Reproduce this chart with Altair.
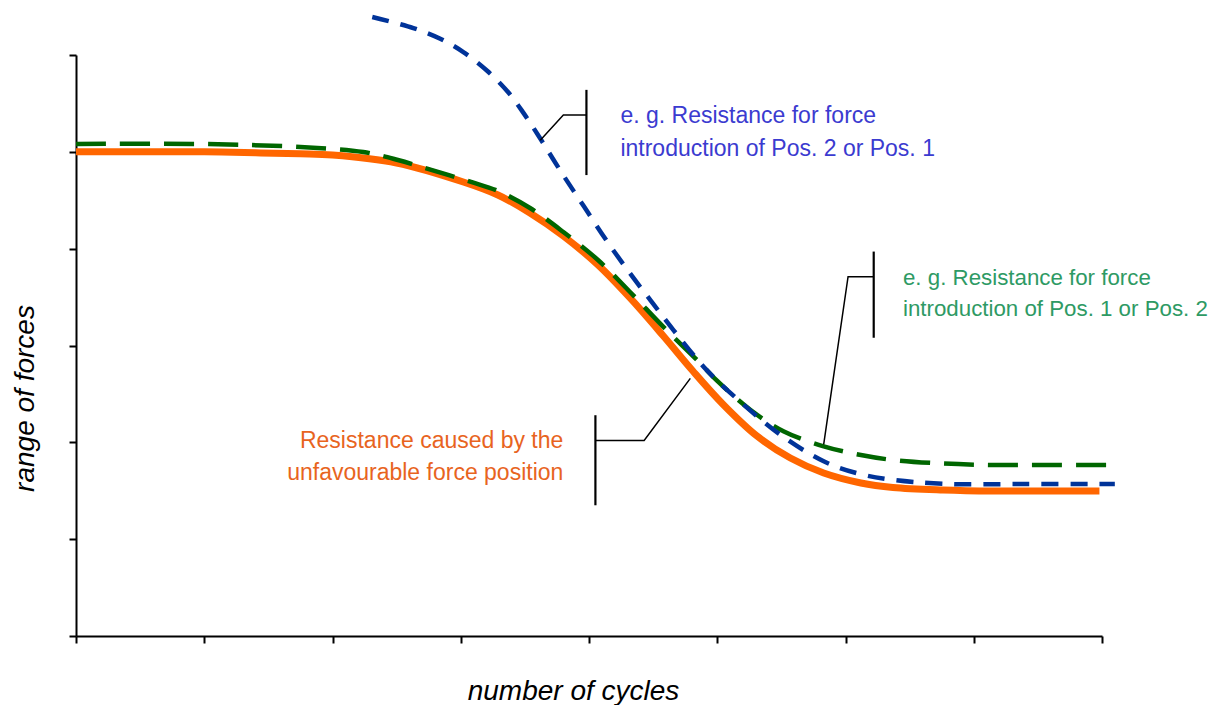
import altair as alt
import pandas as pd

# ---- curve data (x: number of cycles, arbitrary units 0..8; y: range of forces, 0..6) ----
orange_x = [0, 0.6, 1.0, 1.4, 1.75, 2.0, 2.5, 3.02, 3.29, 3.54, 3.8, 4.07, 4.32, 4.58, 4.81,
            5.05, 5.31, 5.57, 5.83, 6.12, 6.37, 6.76, 7.15, 7.6, 7.98]
orange_y = [5.0, 5.0, 5.0, 4.99, 4.98, 4.967, 4.885, 4.689, 4.554, 4.368, 4.131, 3.832, 3.491,
            3.098, 2.737, 2.386, 2.065, 1.838, 1.683, 1.580, 1.534, 1.508, 1.497, 1.497, 1.497]

green_x = [0, 0.97, 1.75, 2.24, 2.51, 2.77, 3.08, 3.29, 3.54, 3.8, 4.07, 4.32, 4.58, 4.85, 5.0,
           5.26, 5.52, 5.83, 6.12, 6.37, 6.76, 7.15, 7.6, 8.09]
green_y = [5.081, 5.081, 5.050, 4.998, 4.916, 4.813, 4.689, 4.596, 4.420, 4.172, 3.883, 3.553,
           3.192, 2.840, 2.634, 2.334, 2.112, 1.959, 1.869, 1.818, 1.781, 1.766, 1.766, 1.766]

blue_x = [2.31, 2.63, 2.84, 3.02, 3.21, 3.37, 3.49, 3.62, 3.8, 3.96, 4.14, 4.32, 4.48, 4.66,
          4.92, 5.18, 5.49, 5.83, 6.09, 6.33, 6.76, 7.42, 8.1]
blue_y = [6.393, 6.278, 6.168, 6.030, 5.832, 5.615, 5.400, 5.137, 4.757, 4.437, 4.077, 3.745,
          3.466, 3.157, 2.743, 2.419, 2.080, 1.804, 1.681, 1.619, 1.572, 1.569, 1.569]

# ---- axis ticks ----
x_ticks = [0, 1, 2, 3, 4, 5, 6, 7, 8]
y_ticks = [0, 1, 2, 3, 4, 5, 6]

# ---- callout leader lines ----
leader_seg = ["blue", "blue", "blue", "green", "green", "green", "orange", "orange", "orange"]
leader_ord = [0, 1, 2, 0, 1, 2, 0, 1, 2]
leader_x = [3.62, 3.80, 3.98, 5.83, 6.02, 6.22, 4.79, 4.43, 4.05]
leader_y = [5.12, 5.38, 5.38, 1.98, 3.71, 3.71, 2.66, 2.02, 2.02]

bar_x = [3.98, 6.22, 4.05]
bar_y1 = [5.64, 3.97, 2.28]
bar_y2 = [4.76, 3.08, 1.35]

# ---- annotation texts ----
blue_text = ["e. g. Resistance for force", "introduction of Pos. 2 or Pos. 1"]
blue_text_x = [4.245, 4.245]
blue_text_y = [5.30, 4.96]

green_text = ["e. g. Resistance for force", "introduction of Pos. 1 or Pos. 2"]
green_text_x = [6.448, 6.448]
green_text_y = [3.625, 3.305]

orange_text = ["Resistance caused by the", "unfavourable force position"]
orange_text_x = [3.80, 3.80]
orange_text_y = [1.94, 1.61]

FONT = "Liberation Sans"

X = alt.X("x:Q", scale=alt.Scale(domain=[0, 8], nice=False, zero=False),
          axis=alt.Axis(values=x_ticks, labels=False, grid=False, title="number of cycles",
                        titleX=497, titleY=63, titleBaseline="alphabetic", titleAlign="center"))
Y = alt.Y("y:Q", scale=alt.Scale(domain=[0, 6], nice=False, zero=False),
          axis=alt.Axis(values=y_ticks, labels=False, grid=False, title="range of forces",
                        titleX=-43, titleY=343, titleAngle=270, titleBaseline="alphabetic",
                        titleAlign="center"))

def curve(xs, ys, color, width, dash=None):
    df = pd.DataFrame({"x": xs, "y": ys})
    kw = dict(color=color, strokeWidth=width, interpolate="catmull-rom", clip=False,
              strokeCap="butt")
    if dash is not None:
        kw["strokeDash"] = dash
    return alt.Chart(df).mark_line(**kw).encode(x=X, y=Y)

orange = curve(orange_x, orange_y, "#FF6600", 7)
green = curve(green_x, green_y, "#006600", 4.5, [30, 14])
blue = curve(blue_x, blue_y, "#003399", 4.5, [17, 12])

leader_df = pd.DataFrame({"x": leader_x, "y": leader_y, "seg": leader_seg, "ord": leader_ord})
leaders = alt.Chart(leader_df).mark_line(color="black", strokeWidth=1.5, clip=False).encode(
    x=X, y=Y, detail="seg:N", order="ord:Q")

bar_df = pd.DataFrame({"x": bar_x, "y": bar_y1, "y2": bar_y2})
bars = alt.Chart(bar_df).mark_rule(color="black", strokeWidth=2.2).encode(
    x=X, y=Y, y2="y2:Q")

def texts(lines, xs, ys, color, align, size=23):
    df = pd.DataFrame({"x": xs, "y": ys, "t": lines})
    return alt.Chart(df).mark_text(align=align, baseline="alphabetic", font=FONT,
                                   fontSize=size, color=color).encode(x=X, y=Y, text="t:N")

t_blue = texts(blue_text, blue_text_x, blue_text_y, "#3B3BD0", "left")
t_green = texts(green_text, green_text_x, green_text_y, "#2E9A64", "left", 22.3)
t_orange = texts(orange_text, orange_text_x, orange_text_y, "#E8641E", "right")

chart = alt.layer(orange, green, blue, leaders, bars, t_blue, t_green, t_orange).properties(
    width=1026, height=581,
    autosize=alt.AutoSizeParams(type="none"),
    padding={"left": 68, "top": 47, "right": 109, "bottom": 69},
).configure_view(stroke=None).configure_axis(
    domainColor="black", domainWidth=2, tickColor="black", tickWidth=2, tickSize=7,
    titleFont=FONT, titleFontSize=28, titleFontStyle="italic", titleFontWeight="normal",
    titleColor="black",
)

chart.save("out.html", embed_options={"renderer": "svg", "actions": False})
